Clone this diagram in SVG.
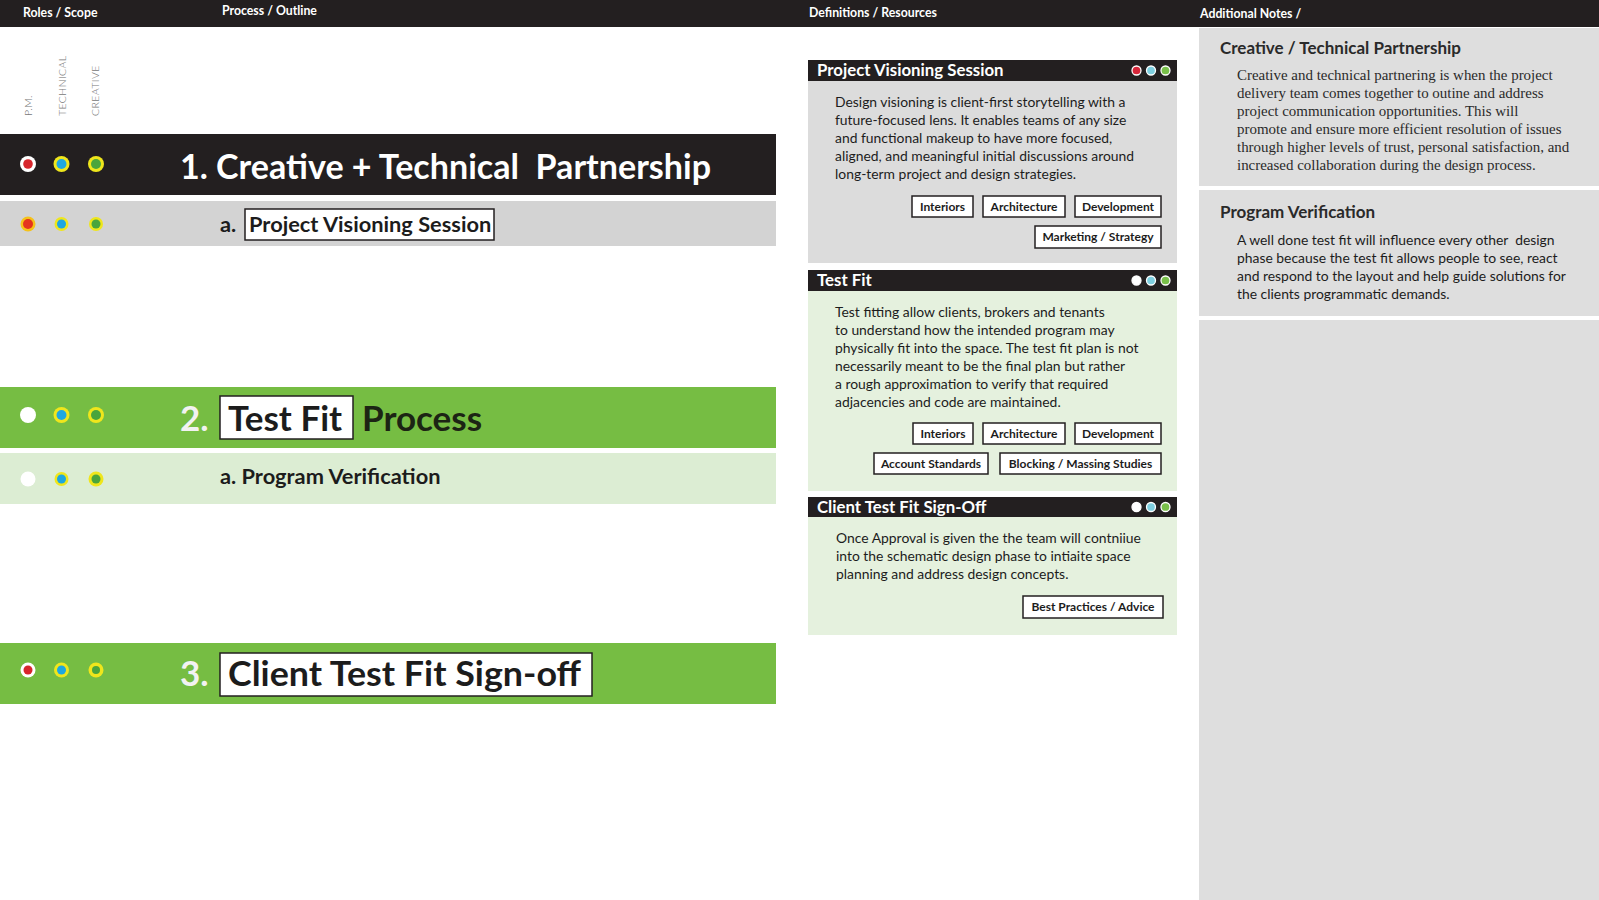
<svg xmlns="http://www.w3.org/2000/svg" width="1599" height="900" viewBox="0 0 1599 900">
<defs>
<style>
.hdr{font-family:Lato,"Liberation Sans",sans-serif;font-weight:700;font-size:12.3px;fill:#ffffff}
.role{font-family:Lato,"Liberation Sans",sans-serif;font-weight:300;font-size:10.5px;fill:#777777;letter-spacing:0.4px}
.big{font-family:Lato,"Liberation Sans",sans-serif;font-weight:700;font-size:35px}
.sub{font-family:Lato,"Liberation Sans",sans-serif;font-weight:700;font-size:21.8px;fill:#1c1c1c}
.ctitle{font-family:Lato,"Liberation Sans",sans-serif;font-weight:700;font-size:16.8px;fill:#ffffff}
.body{font-family:Lato,"Liberation Sans",sans-serif;font-size:13.9px;fill:#1c1c1c}
.tag rect{fill:#ffffff;stroke:#231f20;stroke-width:1.5}
.tag text{font-family:Lato,"Liberation Sans",sans-serif;font-weight:700;font-size:12px;fill:#1c1c1c;text-anchor:middle}
.nh{font-family:Lato,"Liberation Sans",sans-serif;font-weight:700;font-size:17px;fill:#2a2a2a}
.serif{font-family:"Liberation Serif",serif;font-size:14.95px;fill:#2a2a2a}
.box{fill:#ffffff;stroke:#231f20;stroke-width:1.5}
.y{fill:#efe61c}
.w{fill:#ffffff}
.r{fill:#d7262c}
.b{fill:#1ea7e0}
.g{fill:#4aa53c}
</style>
</defs>
<rect x="0" y="0" width="1599" height="900" fill="#ffffff"/>
<g id="header">
<rect x="0" y="0" width="1599" height="27" fill="#231f20"/>
<text class="hdr" x="23" y="17">Roles / Scope</text>
<text class="hdr" x="222" y="15">Process / Outline</text>
<text class="hdr" x="809" y="17">Definitions / Resources</text>
<text class="hdr" x="1200" y="18">Additional Notes /</text>
</g>
<g id="roles">
<text class="role" transform="translate(32,116) rotate(-90)">P.M.</text>
<text class="role" transform="translate(66,116) rotate(-90)">TECHNICAL</text>
<text class="role" transform="translate(99,116) rotate(-90)">CREATIVE</text>
</g>
<g id="step1">
<rect x="0" y="134" width="776" height="61" fill="#231f20"/>
<circle class="w" cx="28" cy="164" r="8"/><circle class="r" cx="28" cy="164" r="4.8"/>
<circle class="y" cx="61.5" cy="164" r="8"/><circle class="b" cx="61.5" cy="164" r="5"/>
<circle class="y" cx="96" cy="164" r="8"/><circle class="g" cx="96" cy="164" r="5"/>
<text class="big" x="180" y="179" fill="#ffffff" xml:space="preserve" style="white-space:pre" textLength="531" lengthAdjust="spacingAndGlyphs">1. Creative + Technical  Partnership</text>
</g>
<g id="step1a">
<rect x="0" y="201" width="776" height="45" fill="#d3d3d3"/>
<circle cx="28" cy="224" r="7.5" fill="#f5c21a"/><circle cx="28" cy="224" r="5" fill="#e5331e"/>
<circle class="y" cx="61.5" cy="224" r="7"/><circle class="b" cx="61.5" cy="224" r="4.5"/>
<circle class="y" cx="96" cy="224" r="7"/><circle class="g" cx="96" cy="224" r="4.5"/>
<text class="sub" x="220" y="232">a.</text>
<rect class="box" x="245" y="209" width="249" height="31"/>
<text class="sub" x="249" y="232">Project Visioning Session</text>
</g>
<g id="step2">
<rect x="0" y="387" width="776" height="61" fill="#76bd43"/>
<circle class="w" cx="28" cy="415" r="8"/>
<circle class="y" cx="61.5" cy="415" r="8"/><circle class="b" cx="61.5" cy="415" r="5"/>
<circle class="y" cx="96" cy="415" r="8"/><circle class="g" cx="96" cy="415" r="5"/>
<text class="big" x="180" y="431" fill="#f2f2f2">2.</text>
<rect class="box" x="220" y="396" width="133" height="43"/>
<text class="big" x="228" y="431" fill="#1c1c1c">Test Fit</text>
<text class="big" x="362" y="431" fill="#1c2414">Process</text>
</g>
<g id="step2a">
<rect x="0" y="453" width="776" height="51" fill="#dcedd3"/>
<circle class="w" cx="28" cy="479" r="7.5"/>
<circle class="y" cx="61.5" cy="479" r="7"/><circle class="b" cx="61.5" cy="479" r="4.5"/>
<circle class="y" cx="96" cy="479" r="7.5"/><circle class="g" cx="96" cy="479" r="4.5"/>
<text class="sub" x="220" y="484">a. Program Verification</text>
</g>
<g id="step3">
<rect x="0" y="643" width="776" height="61" fill="#76bd43"/>
<circle class="w" cx="28" cy="670" r="7.5"/><circle class="r" cx="28" cy="670" r="4.5"/>
<circle class="y" cx="61.5" cy="670" r="7.5"/><circle class="b" cx="61.5" cy="670" r="4.5"/>
<circle class="y" cx="96" cy="670" r="7.5"/><circle class="g" cx="96" cy="670" r="4"/>
<text class="big" x="180" y="686" fill="#f2f2f2">3.</text>
<rect class="box" x="220" y="653" width="372" height="43"/>
<text class="big" x="228" y="686" fill="#1c1c1c" textLength="353" lengthAdjust="spacingAndGlyphs">Client Test Fit Sign-off</text>
</g>
<g id="card1">
<rect x="808" y="81" width="369" height="182" fill="#dcdcdc"/>
<rect x="808" y="60" width="369" height="21" fill="#231f20"/>
<text class="ctitle" x="817" y="76">Project Visioning Session</text>
<circle cx="1136.5" cy="70.5" r="4.5" fill="#d7263a" stroke="#ffffff" stroke-width="1.3"/>
<circle cx="1151" cy="70.5" r="4.5" fill="#7ecfe0" stroke="#ffffff" stroke-width="1.3"/>
<circle cx="1165.5" cy="70.5" r="4.5" fill="#79c04a" stroke="#ffffff" stroke-width="1.3"/>
<text class="body" x="835" y="107">Design visioning is client-first storytelling with a</text>
<text class="body" x="835" y="125">future-focused lens. It enables teams of any size</text>
<text class="body" x="835" y="143">and functional makeup to have more focused,</text>
<text class="body" x="835" y="161">aligned, and meaningful initial discussions around</text>
<text class="body" x="835" y="179">long-term project and design strategies.</text>
<g class="tag"><rect x="912" y="196" width="61" height="21"/><text x="942.5" y="211">Interiors</text></g>
<g class="tag"><rect x="983" y="196" width="82" height="21"/><text x="1024" y="211">Architecture</text></g>
<g class="tag"><rect x="1075" y="196" width="86" height="21"/><text x="1118" y="211">Development</text></g>
<g class="tag"><rect x="1035" y="226" width="126" height="22"/><text x="1098" y="241">Marketing / Strategy</text></g>
</g>
<g id="card2">
<rect x="808" y="291" width="369" height="200" fill="#e5f1de"/>
<rect x="808" y="270" width="369" height="21" fill="#231f20"/>
<text class="ctitle" x="817" y="286">Test Fit</text>
<circle cx="1136.5" cy="280.5" r="4.5" fill="#ffffff" stroke="#ffffff" stroke-width="1.3"/>
<circle cx="1151" cy="280.5" r="4.5" fill="#7ecfe0" stroke="#ffffff" stroke-width="1.3"/>
<circle cx="1165.5" cy="280.5" r="4.5" fill="#79c04a" stroke="#ffffff" stroke-width="1.3"/>
<text class="body" x="835" y="317">Test fitting allow clients, brokers and tenants</text>
<text class="body" x="835" y="335">to understand how the intended program may</text>
<text class="body" x="835" y="353">physically fit into the space. The test fit plan is not</text>
<text class="body" x="835" y="371">necessarily meant to be the final plan but rather</text>
<text class="body" x="835" y="389">a rough approximation to verify that required</text>
<text class="body" x="835" y="407">adjacencies and code are maintained.</text>
<g class="tag"><rect x="913" y="423" width="60" height="21"/><text x="943" y="438">Interiors</text></g>
<g class="tag"><rect x="983" y="423" width="82" height="21"/><text x="1024" y="438">Architecture</text></g>
<g class="tag"><rect x="1075" y="423" width="86" height="21"/><text x="1118" y="438">Development</text></g>
<g class="tag"><rect x="874" y="453" width="114" height="21"/><text x="931" y="468">Account Standards</text></g>
<g class="tag"><rect x="1000" y="453" width="161" height="21"/><text x="1080.5" y="468">Blocking / Massing Studies</text></g>
</g>
<g id="card3">
<rect x="808" y="517" width="369" height="118" fill="#e5f1de"/>
<rect x="808" y="497" width="369" height="20" fill="#231f20"/>
<text class="ctitle" x="817" y="513">Client Test Fit Sign-Off</text>
<circle cx="1136.5" cy="507" r="4.5" fill="#ffffff" stroke="#ffffff" stroke-width="1.3"/>
<circle cx="1151" cy="507" r="4.5" fill="#7ecfe0" stroke="#ffffff" stroke-width="1.3"/>
<circle cx="1165.5" cy="507" r="4.5" fill="#79c04a" stroke="#ffffff" stroke-width="1.3"/>
<text class="body" x="836" y="543">Once Approval is given the the team will contniiue</text>
<text class="body" x="836" y="561">into the schematic design phase to intiaite space</text>
<text class="body" x="836" y="579">planning and address design concepts.</text>
<g class="tag"><rect x="1023" y="596" width="140" height="22"/><text x="1093" y="611">Best Practices / Advice</text></g>
</g>
<g id="notes">
<rect x="1199" y="28" width="400" height="872" fill="#dedede"/>
<rect x="1199" y="186" width="400" height="4" fill="#ffffff"/>
<rect x="1199" y="316" width="400" height="4" fill="#ffffff"/>
<text class="nh" x="1220" y="54">Creative / Technical Partnership</text>
<text class="serif" x="1237" y="80">Creative and technical partnering is when the project</text>
<text class="serif" x="1237" y="98">delivery team comes together to outine and address</text>
<text class="serif" x="1237" y="116">project communication opportunities. This will</text>
<text class="serif" x="1237" y="134">promote and ensure more efficient resolution of issues</text>
<text class="serif" x="1237" y="152">through higher levels of trust, personal satisfaction, and</text>
<text class="serif" x="1237" y="170">increased collaboration during the design process.</text>
<text class="nh" x="1220" y="218">Program Verification</text>
<text class="body" x="1237" y="245" xml:space="preserve" style="white-space:pre">A well done test fit will influence every other  design</text>
<text class="body" x="1237" y="263">phase because the test fit allows people to see, react</text>
<text class="body" x="1237" y="281">and respond to the layout and help guide solutions for</text>
<text class="body" x="1237" y="299">the clients programmatic demands.</text>
</g>
</svg>
